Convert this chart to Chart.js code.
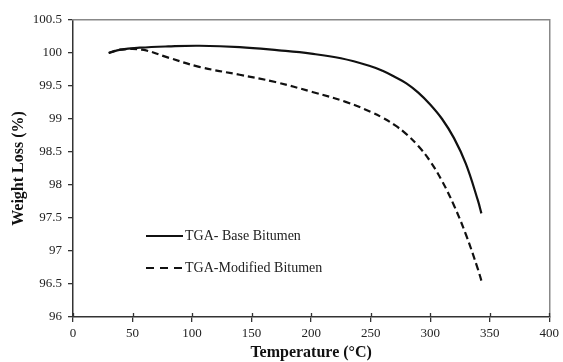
<!DOCTYPE html>
<html>
<head>
<meta charset="utf-8">
<script src="https://cdn.jsdelivr.net/npm/chart.js@4"></script>
<style>
  html, body { margin: 0; padding: 0; background: #fff; }
  #wrap { width: 563px; height: 362px; }
</style>
</head>
<body>
<div id="wrap"><canvas id="tga" width="563" height="362"></canvas></div>
<script>
// values
var tempBase   = [30, 40, 56, 80, 106, 140, 173, 200, 225, 250, 260, 270, 280, 290, 300, 310, 320, 330, 340, 343];
var weightBase = [100.0, 100.05, 100.08, 100.1, 100.11, 100.09, 100.04, 99.99, 99.92, 99.80, 99.73, 99.64, 99.54, 99.40, 99.22, 99.00, 98.71, 98.32, 97.77, 97.57];

var tempMod    = [30, 40, 58, 80, 106, 140, 170, 201, 229, 250, 260, 270, 280, 290, 300, 310, 320, 330, 340, 343];
var weightMod  = [100.0, 100.05, 100.05, 99.93, 99.79, 99.67, 99.56, 99.41, 99.26, 99.11, 99.02, 98.91, 98.77, 98.59, 98.36, 98.06, 97.69, 97.25, 96.73, 96.55];

var xTicks = [0, 50, 100, 150, 200, 250, 300, 350, 400];
var yTicks = [96, 96.5, 97, 97.5, 98, 98.5, 99, 99.5, 100, 100.5];

function toPoints(xs, ys) {
    return xs.map(function (x, i) { return { x: x, y: ys[i] }; });
}

var serif = '"Liberation Serif", "Times New Roman", serif';

// legend drawn inside the plot, lower left
var insideLegend = {
    id: 'insideLegend',
    afterDatasetsDraw: function (chart) {
        var ctx = chart.ctx, area = chart.chartArea;
        var rows = [area.top + 216, area.top + 248];
        ctx.save();
        chart.data.datasets.forEach(function (ds, i) {
            var y = rows[i];
            var x0 = area.left + 73;
            ctx.beginPath();
            ctx.lineWidth = 2.2;
            ctx.strokeStyle = ds.borderColor;
            ctx.setLineDash(i === 0 ? [] : [8, 6]);
            ctx.moveTo(x0, y);
            ctx.lineTo(x0 + 37, y);
            ctx.stroke();
            ctx.setLineDash([]);
            ctx.fillStyle = '#222';
            ctx.font = '14px ' + serif;
            ctx.textBaseline = 'middle';
            ctx.fillText(ds.label, x0 + 39, y);
        });
        ctx.restore();
    }
};

// the x ticks in the figure cross the axis, so add the short inner part
var innerTicks = {
    id: 'innerTicks',
    afterDraw: function (chart) {
        var ctx = chart.ctx, xs = chart.scales.x, bottom = chart.chartArea.bottom;
        ctx.save();
        ctx.strokeStyle = '#333';
        ctx.lineWidth = 1.3;
        xs.ticks.forEach(function (t) {
            var px = Math.round(xs.getPixelForValue(t.value)) + 0.5;
            ctx.beginPath();
            ctx.moveTo(px, bottom);
            ctx.lineTo(px, bottom - 4);
            ctx.stroke();
        });
        ctx.restore();
    }
};

var ctx = document.getElementById('tga').getContext('2d');
var chart = new Chart(ctx, {
    type: 'line',
    data: {
        datasets: [{
            label: 'TGA- Base Bitumen',
            data: toPoints(tempBase, weightBase),
            borderColor: '#111',
            borderWidth: 2.2,
            pointRadius: 0,
            fill: false,
            tension: 0.4
        }, {
            label: 'TGA-Modified Bitumen',
            data: toPoints(tempMod, weightMod),
            borderColor: '#111',
            borderWidth: 2.2,
            borderDash: [7, 4],
            pointRadius: 0,
            fill: false,
            tension: 0.4
        }]
    },
    options: {
        responsive: false,
        animation: false,
        layout: { padding: { top: 20, right: 12, left: 0, bottom: 0 } },
        plugins: {
            legend: { display: false },
            tooltip: { enabled: false }
        },
        scales: {
            x: {
                type: 'linear',
                min: 0,
                max: 400,
                afterBuildTicks: function (s) { s.ticks = xTicks.map(function (v) { return { value: v }; }); },
                afterFit: function (s) { s.height = 45; },
                ticks: { color: '#222', font: { family: serif, size: 13 }, padding: 4, maxRotation: 0 },
                grid: { drawOnChartArea: false, tickLength: 5, color: '#333', lineWidth: 1.3 },
                border: { color: '#333', width: 1.5 },
                title: {
                    display: true,
                    text: 'Temperature (°C)',
                    color: '#111',
                    font: { family: serif, size: 16, weight: 'bold' },
                    padding: { top: 3, bottom: 0 }
                }
            },
            y: {
                min: 96,
                max: 100.5,
                afterBuildTicks: function (s) { s.ticks = yTicks.map(function (v) { return { value: v }; }); },
                afterFit: function (s) { s.width = 73; },
                ticks: {
                    color: '#222',
                    font: { family: serif, size: 13 },
                    padding: 6,
                    callback: function (v) { return String(+v.toFixed(1)); }
                },
                grid: { drawOnChartArea: false, tickLength: 5, color: '#333', lineWidth: 1.3 },
                border: { color: '#333', width: 1.5 },
                title: {
                    display: true,
                    text: 'Weight Loss (%)',
                    color: '#111',
                    font: { family: serif, size: 16, weight: 'bold' },
                    padding: { top: 9, bottom: 0 }
                }
            },
            xTop: {
                type: 'linear',
                position: 'top',
                min: 0,
                max: 400,
                afterFit: function (s) { s.height = 0; },
                ticks: { display: false },
                grid: { display: false },
                border: { color: '#888', width: 1.5 }
            },
            yRight: {
                type: 'linear',
                position: 'right',
                min: 96,
                max: 100.5,
                afterFit: function (s) { s.width = 0; },
                ticks: { display: false },
                grid: { display: false },
                border: { color: '#888', width: 1.5 }
            }
        }
    },
    plugins: [insideLegend, innerTicks]
});
</script>
</body>
</html>
